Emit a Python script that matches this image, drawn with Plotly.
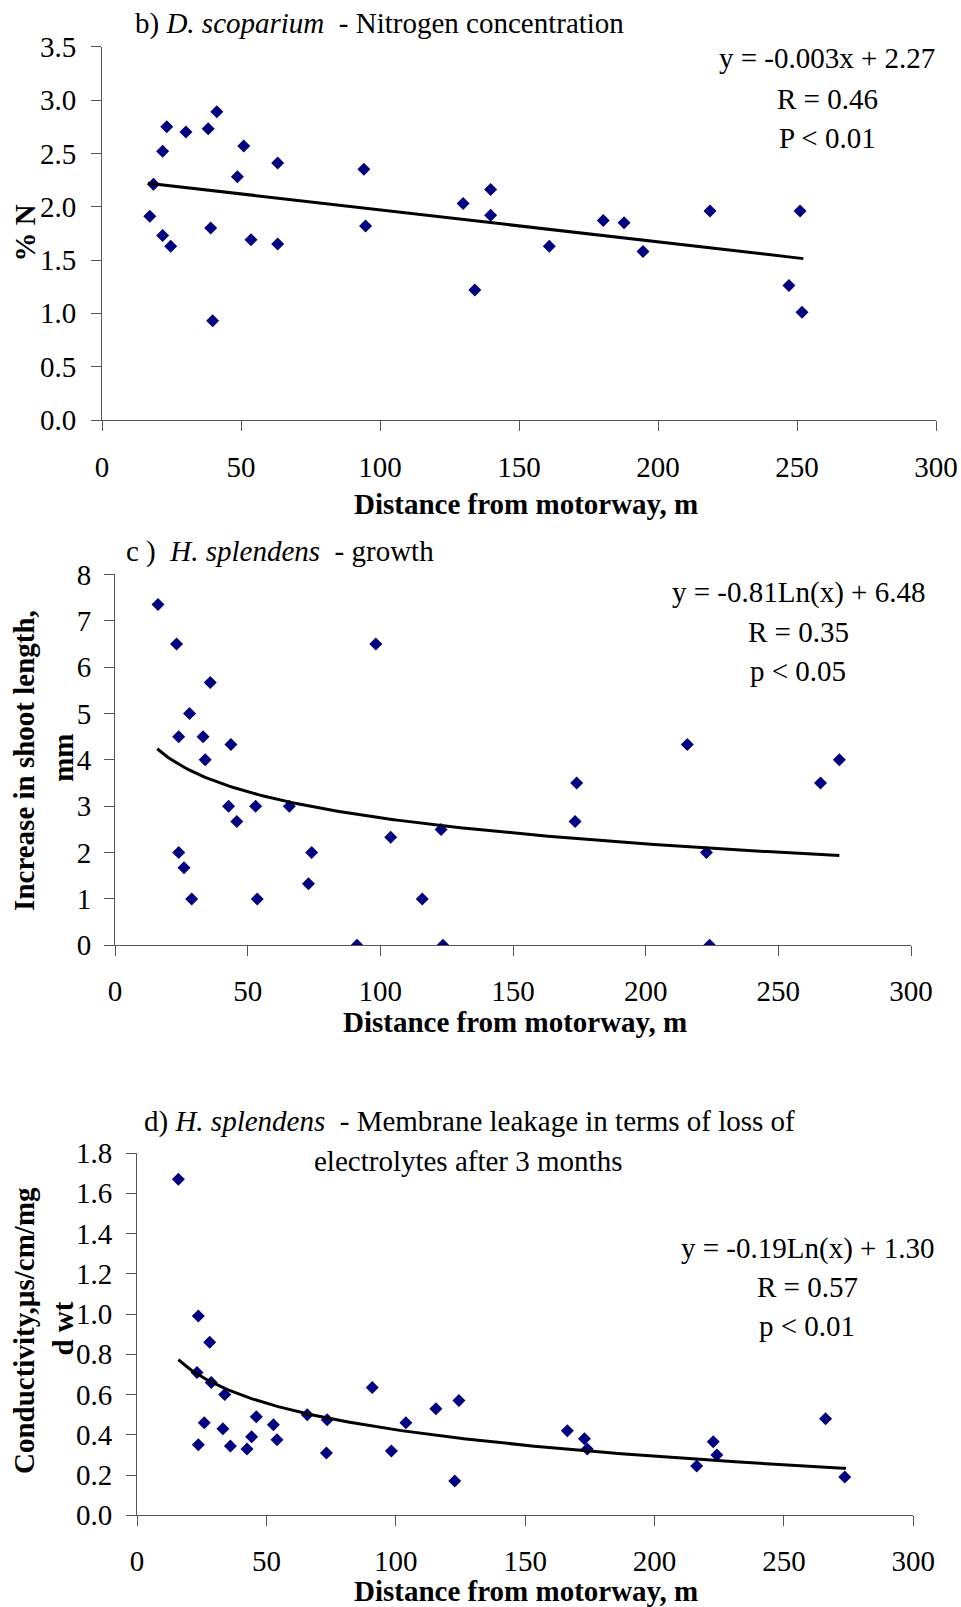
import numpy as np
import plotly.graph_objects as go

W, H = 961, 1607
FONT = "Liberation Serif"
FS = 29
NAVY = "#000080"
AXC = "#555555"

# ---- data: b) D. scoparium - Nitrogen concentration ----
b_x = [17.2, 18.5, 21.8, 21.8, 23.3, 24.7, 30.2, 38.2, 39.1, 39.8, 41.3, 48.7, 51.0, 53.6, 63.2,
       63.2, 94.2, 94.8, 129.9, 134.1, 139.8, 139.8, 160.9, 180.3, 187.8, 194.6, 218.7, 247.1,
       251.1, 251.8]
b_y = [1.91, 2.21, 2.52, 1.73, 2.75, 1.63, 2.70, 2.73, 1.80, 0.93, 2.89, 2.28, 2.57, 1.69, 2.41,
       1.65, 2.35, 1.82, 2.03, 1.22, 2.16, 1.92, 1.63, 1.87, 1.85, 1.58, 1.96, 1.26, 1.96, 1.01]
b_fit = {"slope": -0.003, "intercept": 2.27, "x0": 16.5, "x1": 252.3}
b_stats = ["y = -0.003x + 2.27", "R = 0.46", "P < 0.01"]

# ---- data: c) H. splendens - growth ----
c_x = [16.2, 23.2, 24.0, 24.0, 26.0, 28.1, 28.9, 33.2, 34.0, 35.9, 42.8, 43.7, 45.9, 53.0, 53.6,
       65.7, 72.9, 74.1, 91.2, 98.3, 103.9, 115.8, 122.9, 123.6, 174.0, 173.4, 215.7, 222.9,
       224.1, 265.9, 273.0]
c_y = [7.35, 6.5, 4.5, 2.0, 1.67, 5.0, 1.0, 4.5, 4.0, 5.67, 3.0, 4.33, 2.67, 3.0, 1.0,
       3.0, 1.33, 2.0, 0.0, 6.5, 2.33, 1.0, 2.5, 0.0, 3.5, 2.67, 4.33, 2.0, 0.0, 3.5, 4.0]
c_fit = {"a": -0.81, "b": 6.48, "x0": 15.9, "x1": 273.0}
c_stats = ["y = -0.81Ln(x) + 6.48", "R = 0.35", "p < 0.05"]

# ---- data: d) H. splendens - membrane leakage ----
d_x = [16.0, 23.7, 23.2, 23.7, 26.0, 28.1, 28.7, 33.2, 33.9, 36.1, 42.5, 44.3, 46.1, 52.7, 54.1,
       65.8, 73.5, 73.2, 90.9, 98.3, 103.9, 115.5, 124.4, 122.8, 166.3, 172.9, 174.0, 216.3,
       222.7, 224.1, 266.1, 273.5]
d_y = [1.67, 0.99, 0.71, 0.35, 0.46, 0.86, 0.66, 0.43, 0.60, 0.345, 0.33, 0.39, 0.49, 0.45, 0.375,
       0.50, 0.475, 0.31, 0.635, 0.32, 0.46, 0.53, 0.57, 0.17, 0.42, 0.38, 0.33, 0.245,
       0.365, 0.30, 0.48, 0.19]
d_fit = {"a": -0.19, "b": 1.30, "x0": 16.0, "x1": 274.0}
d_stats = ["y = -0.19Ln(x) + 1.30", "R = 0.57", "p < 0.01"]

x_ticks = [0, 50, 100, 150, 200, 250, 300]


def px(x):
    return x / W


def py(y):
    return 1 - y / H


fig = go.Figure()

# scatter + trendlines
fig.add_trace(go.Scatter(x=b_x, y=b_y, mode="markers", xaxis="x", yaxis="y",
                         marker=dict(symbol="diamond", size=10, color=NAVY)))
bx = np.array([b_fit["x0"], b_fit["x1"]])
fig.add_trace(go.Scatter(x=bx, y=b_fit["slope"] * bx + b_fit["intercept"], mode="lines",
                         xaxis="x", yaxis="y", line=dict(color="black", width=3)))

fig.add_trace(go.Scatter(x=c_x, y=c_y, mode="markers", xaxis="x2", yaxis="y2",
                         marker=dict(symbol="diamond", size=10, color=NAVY)))
cx = np.linspace(c_fit["x0"], c_fit["x1"], 200)
fig.add_trace(go.Scatter(x=cx, y=c_fit["a"] * np.log(cx) + c_fit["b"], mode="lines",
                         xaxis="x2", yaxis="y2", line=dict(color="black", width=3)))

fig.add_trace(go.Scatter(x=d_x, y=d_y, mode="markers", xaxis="x3", yaxis="y3",
                         marker=dict(symbol="diamond", size=10, color=NAVY)))
dx = np.linspace(d_fit["x0"], d_fit["x1"], 200)
fig.add_trace(go.Scatter(x=dx, y=d_fit["a"] * np.log(dx) + d_fit["b"], mode="lines",
                         xaxis="x3", yaxis="y3", line=dict(color="black", width=3)))

common = dict(showgrid=False, zeroline=False, showline=True, linecolor=AXC, linewidth=1,
              ticks="outside", ticklen=10, tickcolor=AXC, tickwidth=1, automargin=False,
              tickfont=dict(family=FONT, size=FS, color="black"))


def xax(domain, anchor, standoff):
    return dict(domain=domain, anchor=anchor, range=[0, 300], tickvals=x_ticks,
                ticklabelstandoff=standoff, **common)


def yax(domain, anchor, rng, dtick, fmt, standoff):
    return dict(domain=domain, anchor=anchor, range=rng, dtick=dtick, tick0=0,
                tickformat=fmt, ticklabelstandoff=standoff, **common)


# panel pixel boxes
b_box = (102, 936, 46.7, 420)
c_box = (115, 911, 574.4, 945.3)
d_box = (137, 913.3, 1153.1, 1515.3)

layout = dict(
    width=W, height=H, margin=dict(l=0, r=0, t=0, b=0, autoexpand=False),
    paper_bgcolor="white", plot_bgcolor="white", showlegend=False,
    xaxis=xax([px(b_box[0]), px(b_box[1])], "y", 11),
    yaxis=yax([py(b_box[3]), py(b_box[2])], "x", [0, 3.5], 0.5, ".1f", 9),
    xaxis2=xax([px(c_box[0]), px(c_box[1])], "y2", 10),
    yaxis2=yax([py(c_box[3]), py(c_box[2])], "x2", [0, 8], 1, "d", 7),
    xaxis3=xax([px(d_box[0]), px(d_box[1])], "y3", 10),
    yaxis3=yax([py(d_box[3]), py(d_box[2])], "x3", [0, 1.8], 0.2, ".1f", 8),
)

ann = []


def text(x, y, s, xanchor="center", angle=0):
    ann.append(dict(x=px(x), y=py(y), xref="paper", yref="paper", text=s, showarrow=False,
                    xanchor=xanchor, yanchor="middle", textangle=angle,
                    font=dict(family=FONT, size=FS, color="black")))


# titles
text(133, 23.7, "b) <i>D. scoparium</i>  - Nitrogen concentration", xanchor="left")
text(124, 552, "c )  <i>H. splendens</i>  - growth", xanchor="left")
text(469, 1121, "d) <i>H. splendens</i>  - Membrane leakage in terms of loss of")
text(468, 1161, "electrolytes after 3 months")

# regression stats
for s, yy in zip(b_stats, [57.5, 98.7, 138.3]):
    text(827, yy, s)
for s, yy in zip(c_stats, [592.5, 631.8, 671.3]):
    text(798, yy, s)
for s, yy in zip(d_stats, [1248.4, 1286.8, 1326.3]):
    text(807, yy, s)

# axis titles
text(526, 504, "<b>Distance from motorway, m</b>")
text(515, 1021.7, "<b>Distance from motorway, m</b>")
text(526, 1591, "<b>Distance from motorway, m</b>")
text(24, 233.5, "<b>% N</b>", angle=-90)
text(24, 760.9, "<b>Increase in shoot length,</b>", angle=-90)
text(63.5, 758.3, "<b>mm</b>", angle=-90)
text(24, 1331, "<b>Conductivity,µs/cm/mg</b>", angle=-90)
text(63, 1328.6, "<b>d wt</b>", angle=-90)

layout["annotations"] = ann
fig.update_layout(**layout)
fig.write_html("out.html")
